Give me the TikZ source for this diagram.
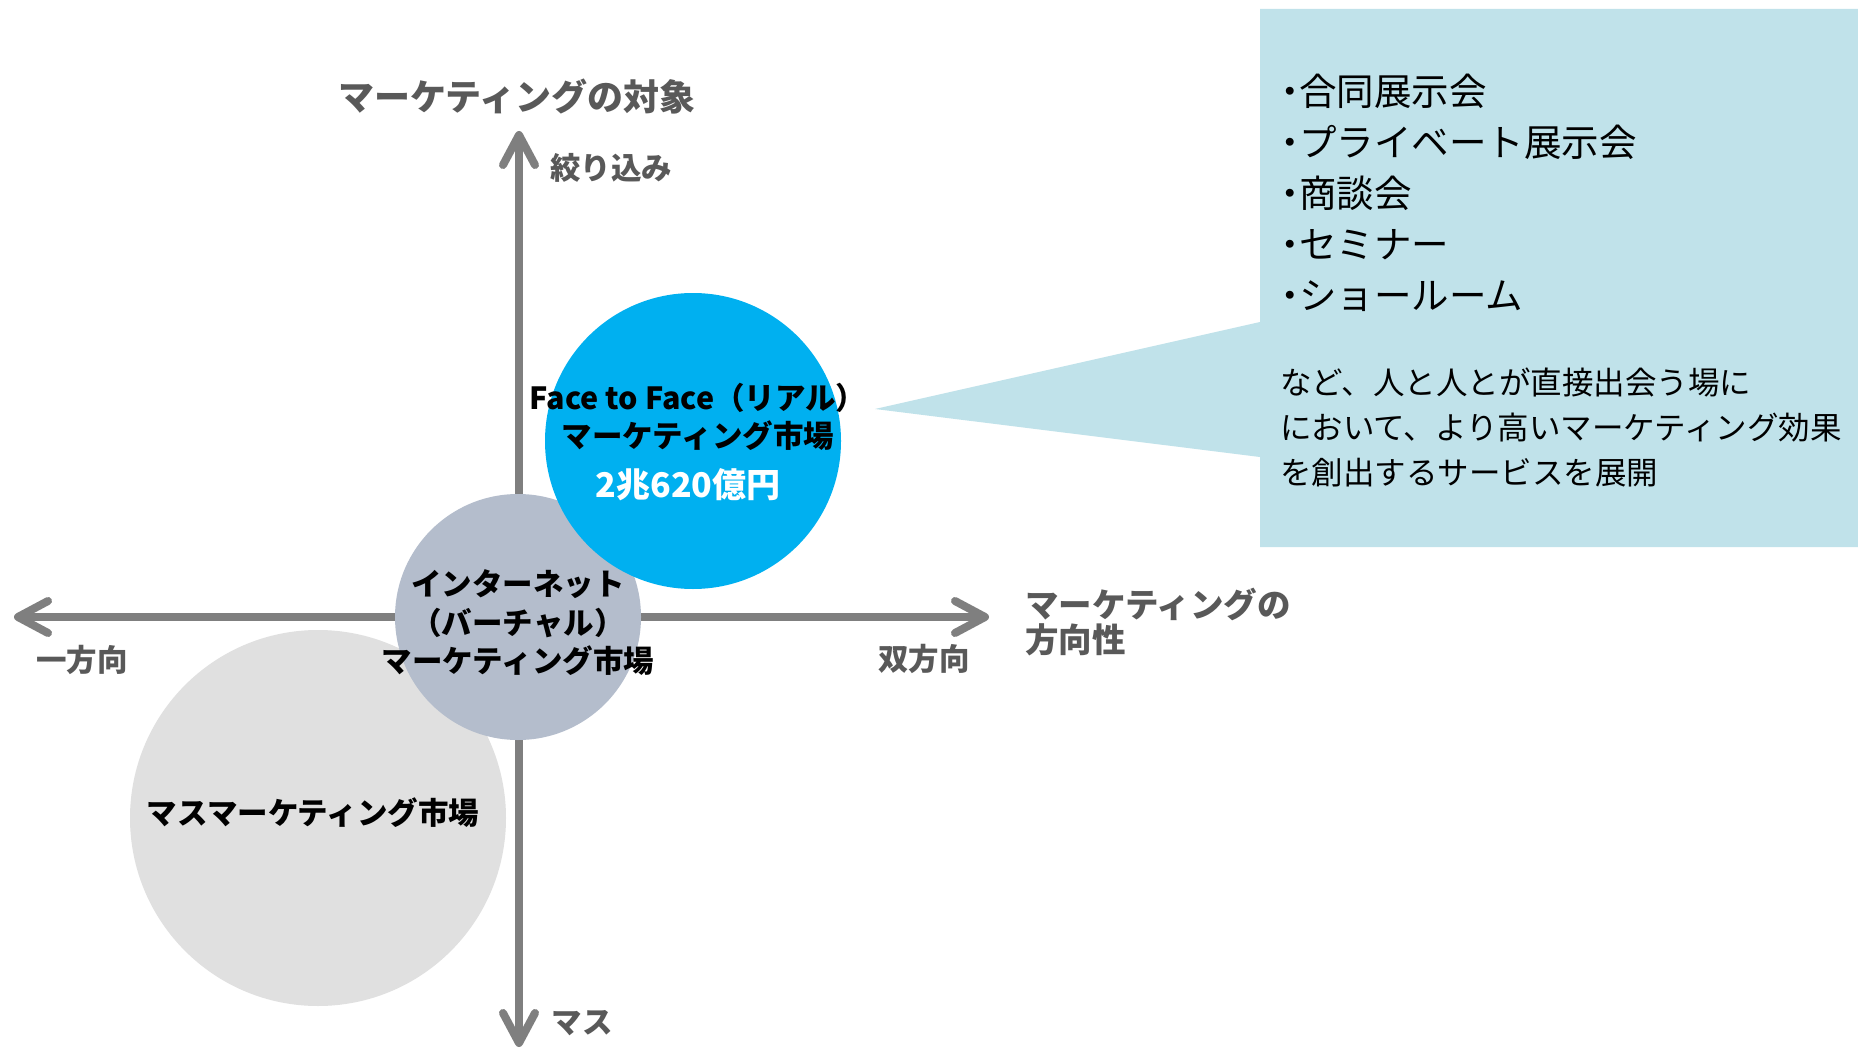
\documentclass[tikz,border=0pt]{standalone}
\usepackage{fontspec}
\setmainfont{Noto Sans CJK JP}
\usetikzlibrary{arrows.meta}
\definecolor{axisgray}{HTML}{7F7F7F}
\definecolor{labelgray}{HTML}{595959}
\definecolor{ffblue}{HTML}{00B0F0}
\definecolor{netgray}{HTML}{B4BDCC}
\definecolor{massgray}{HTML}{E0E0E0}
\definecolor{calloutfill}{HTML}{C0E2EA}
\newcommand{\bulletdot}{\makebox[0.45em][c]{・}}
\begin{document}
\begin{tikzpicture}[x=1pt,y=-1pt,
  axisline/.style={draw=axisgray, line width=8pt,
    {Straight Barb[length=30pt,width=32pt,round]}-{Straight Barb[length=30pt,width=32pt,round]}},
  market/.style={circle, inner sep=0pt, draw=none},
  axlabel/.style={text=labelgray, inner sep=0pt, font=\bfseries\fontsize{30.5}{36}\selectfont},
  bigaxlabel/.style={text=labelgray, inner sep=0pt, align=left, font=\bfseries\fontsize{33.5}{35}\selectfont},
  circtext/.style={text=black, inner sep=0pt, align=center, font=\bfseries\fontsize{30.5}{38.5}\selectfont},
  callouttext/.style={text=black, inner sep=0pt, align=left, anchor=west}
]
\useasboundingbox (0,0) rectangle (1858,1051);
\fill[white] (0,0) rectangle (1858,1051);

% mass market circle
\node[market, fill=massgray, minimum size=376pt] (mass) at (318,818) {};

% axes
\coordinate (ytop) at (519,131);
\coordinate (ybot) at (519,1047);
\coordinate (xleft) at (14,617);
\coordinate (xright) at (989,617);
\draw[axisline] (ybot) -- (ytop);
\draw[axisline] (xleft) -- (xright);

% internet circle
\node[market, fill=netgray, minimum size=246pt] (net) at (518,617) {};
% face to face circle
\node[market, fill=ffblue, minimum size=296pt] (ff) at (693,441) {};

% callout
\fill[calloutfill] (1260,9) -- (1858,9) -- (1858,547) -- (1260,547) -- (1260,457) -- (875,409) -- (1260,322) -- cycle;
\node[callouttext, font=\fontsize{37.5}{51}\selectfont] (items) at (1282,193)
  {\bulletdot 合同展示会\\\bulletdot プライベート展示会\\\bulletdot 商談会\\\bulletdot セミナー\\\bulletdot ショールーム};
\node[callouttext, font=\fontsize{31.5}{45}\selectfont] (desc) at (1280,427)
  {など、人と人とが直接出会う場に\\において、より高いマーケティング効果\\を創出するサービスを展開};

% axis titles and labels
\node[text=labelgray, inner sep=0pt, font=\bfseries\fontsize{36}{40}\selectfont] (ttl) at (517,97) {マーケティングの対象};
\node[axlabel] (narrow) at (611,168) {絞り込み};
\node[axlabel] (massl) at (582,1023) {マス};
\node[axlabel] (oneway) at (82,660) {一方向};
\node[axlabel] (twoway) at (924,659) {双方向};
\node[bigaxlabel, anchor=west] (dir) at (1025,622) {マーケティングの\\方向性};

% circle texts
\node[circtext] (fftext) at (698,417) {Face to Face（リアル）\\マーケティング市場};
\node[circtext, text=white, font=\bfseries\fontsize{34}{38}\selectfont] (ffval) at (688,485) {2兆620億円};
\node[circtext] (nettext) at (518,623) {インターネット\\（バーチャル）\\マーケティング市場};
\node[circtext] (masstext) at (313,813) {マスマーケティング市場};
\end{tikzpicture}
\end{document}
